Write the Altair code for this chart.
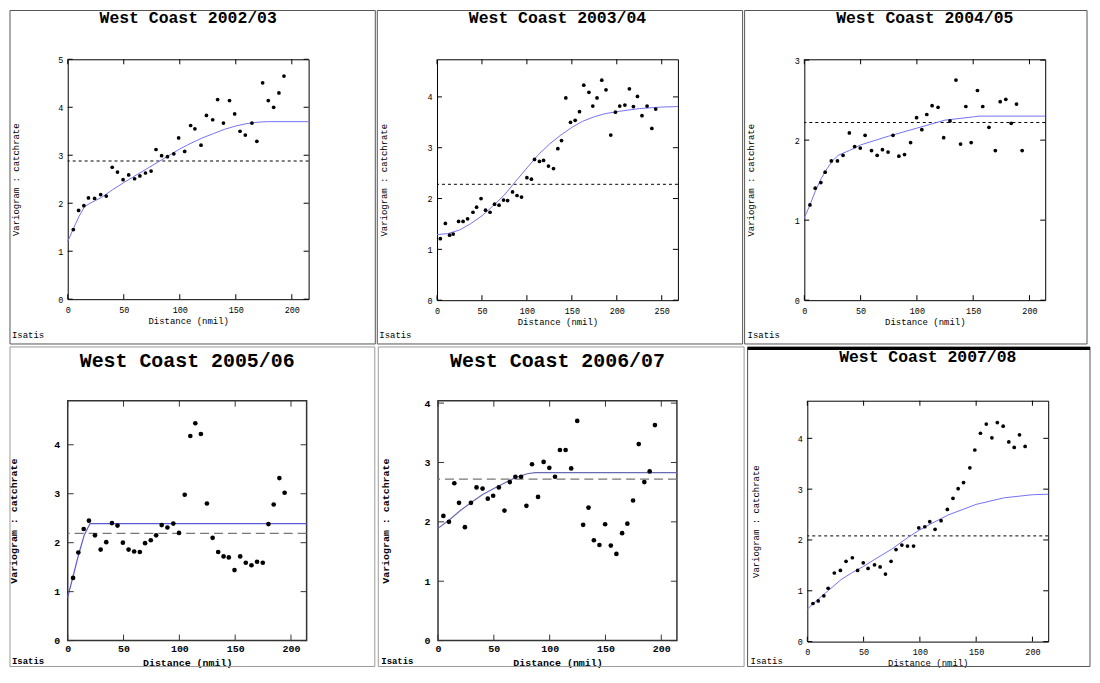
import altair as alt
import pandas as pd

FONT = "Liberation Mono"
X_TITLE = "Distance (nmil)"
Y_TITLE = "Variogram : catchrate"
FOOTER = "Isatis"

TITLES = ["West Coast 2002/03", "West Coast 2003/04", "West Coast 2004/05",
          "West Coast 2005/06", "West Coast 2006/07", "West Coast 2007/08"]

# ---------------- 2002/03 ----------------
LAG_0203 = [5, 9.7, 14.4, 18.5, 24, 29.4, 34.4, 39.7, 44.4, 49.4, 54.4, 59.7, 64.4, 69.4, 74.4,
            78.8, 83.8, 89, 94.7, 99, 104.4, 109.7, 113.5, 119, 123.8, 129.4, 133.8, 139, 144.4,
            149, 153.8, 158.5, 164.4, 168.8, 174, 179, 183.8, 188.5, 193]
GAM_0203 = [1.45, 1.85, 1.95, 2.11, 2.10, 2.18, 2.15, 2.75, 2.65, 2.49, 2.59, 2.51, 2.57, 2.63, 2.67,
            3.12, 2.99, 2.97, 3.03, 3.36, 3.08, 3.62, 3.55, 3.21, 3.83, 3.74, 4.16, 3.67, 4.14,
            3.86, 3.50, 3.42, 3.67, 3.29, 4.51, 4.14, 4.00, 4.30, 4.65]
MLAG_0203 = [0, 5, 10, 15, 20, 25, 30, 40, 50, 60, 70, 80, 90, 100, 110, 120, 130, 140, 150, 160, 170, 178, 215]
MGAM_0203 = [1.2, 1.47, 1.72, 1.93, 2.0, 2.06, 2.12, 2.28, 2.43, 2.57, 2.71, 2.85, 2.99, 3.13, 3.25,
             3.36, 3.45, 3.54, 3.61, 3.66, 3.69, 3.70, 3.70]
SILL_0203 = 2.88

# ---------------- 2003/04 ----------------
LAG_0304 = [3.7, 9.3, 14, 18, 24, 29, 34, 40, 44, 49, 54, 59, 64, 69, 74, 78.5, 84, 89, 94, 100,
            105, 108.5, 114, 118.5, 124, 129.6, 134.4, 138.5, 143.3, 148.5, 153.7, 158.5, 163.3,
            169, 173.3, 178, 183.3, 188, 193.3, 198.5, 203.3, 209, 214, 218.5, 223, 228, 233.7, 239, 243.3]
GAM_0304 = [1.21, 1.51, 1.28, 1.30, 1.55, 1.55, 1.60, 1.73, 1.83, 2.00, 1.77, 1.73, 1.89, 1.87, 1.97,
            1.96, 2.13, 2.06, 2.03, 2.41, 2.38, 2.77, 2.73, 2.75, 2.64, 2.59, 2.98, 3.14, 3.98, 3.50,
            3.54, 3.71, 4.23, 4.09, 3.82, 3.98, 4.33, 4.14, 3.25, 3.70, 3.82, 3.84, 4.16, 3.81, 4.01,
            3.63, 3.82, 3.38, 3.76]
MLAG_0304 = [0, 12, 25, 37, 50, 62, 75, 87, 100, 112, 125, 137, 150, 162, 175, 187, 200, 225, 250, 268]
MGAM_0304 = [1.29, 1.31, 1.38, 1.50, 1.66, 1.85, 2.07, 2.33, 2.60, 2.85, 3.07, 3.24, 3.40, 3.52,
             3.61, 3.67, 3.71, 3.77, 3.80, 3.81]
SILL_0304 = 2.28

# ---------------- 2004/05 ----------------
LAG_0405 = [5, 9.7, 14.7, 18.5, 24, 29.4, 34.4, 40, 44.7, 49.7, 54, 59.7, 64.7, 69.4, 74.4, 78.8,
            84, 89, 94.4, 99.7, 104.4, 108.8, 113.5, 118.8, 123.8, 129.4, 134.7, 138.8, 143.5,
            148.2, 153.8, 158.5, 164, 169.7, 174, 179, 183.8, 188.5, 193.5]
GAM_0405 = [1.19, 1.40, 1.47, 1.60, 1.74, 1.74, 1.81, 2.09, 1.92, 1.90, 2.06, 1.87, 1.81, 1.88, 1.85,
            2.06, 1.80, 1.82, 1.97, 2.28, 2.13, 2.32, 2.43, 2.41, 2.03, 2.24, 2.75, 1.95, 2.42,
            1.97, 2.62, 2.42, 2.16, 1.87, 2.48, 2.51, 2.21, 2.45, 1.87]
MLAG_0405 = [0, 5, 10, 15, 20, 25, 30, 40, 50, 75, 100, 125, 150, 155, 214]
MGAM_0405 = [1.03, 1.19, 1.37, 1.52, 1.64, 1.74, 1.81, 1.87, 1.94, 2.05, 2.15, 2.25, 2.29, 2.30, 2.30]
SILL_0405 = 2.22

# ---------------- 2005/06 ----------------
LAG_0506 = [4.8, 9.5, 14.3, 19, 24.4, 29.5, 34.5, 39.6, 44.6, 49.4, 54.5, 59.5, 64.6, 69.3, 74.4,
            79.2, 84.2, 89.3, 94.6, 99.7, 104.8, 109.8, 114.3, 119.3, 124.7, 129.8, 134.8, 139.6,
            144.3, 149.4, 154.5, 159.5, 164.6, 169.6, 174.7, 179.8, 184.5, 189.6, 194.3]
GAM_0506 = [1.28, 1.80, 2.28, 2.45, 2.15, 1.86, 2.01, 2.40, 2.35, 2.00, 1.86, 1.82, 1.81, 1.99, 2.05,
            2.15, 2.36, 2.31, 2.39, 2.20, 2.98, 4.18, 4.44, 4.22, 2.80, 2.10, 1.81, 1.72, 1.70,
            1.44, 1.72, 1.59, 1.54, 1.61, 1.59, 2.38, 2.78, 3.32, 3.02]
MLAG_0506 = [0, 5, 10, 15, 20, 214]
MGAM_0506 = [0.89, 1.33, 1.78, 2.17, 2.39, 2.39]
SILL_0506 = 2.19

# ---------------- 2006/07 ----------------
LAG_0607 = [4.8, 9.8, 14.6, 18.8, 24.1, 29.5, 34.5, 39.9, 44.6, 49.4, 54.5, 59.5, 64.3, 69.3, 74.4,
            79.2, 84.2, 89.6, 94.6, 99.7, 104.8, 109.2, 114.3, 119.3, 124.7, 130, 134.8, 139.6,
            144.6, 149.7, 154.8, 159.8, 164.9, 169.6, 174.7, 179.8, 184.8, 189.6, 194.3]
GAM_0607 = [2.10, 2.00, 2.65, 2.32, 1.91, 2.32, 2.58, 2.56, 2.39, 2.44, 2.58, 2.19, 2.67, 2.76, 2.76,
            2.27, 2.97, 2.42, 3.01, 2.91, 2.76, 3.21, 3.21, 2.90, 3.70, 1.95, 2.24, 1.69, 1.61,
            1.96, 1.60, 1.46, 1.81, 1.97, 2.36, 3.31, 2.67, 2.85, 3.63]
MLAG_0607 = [0, 10, 20, 30, 40, 50, 60, 70, 80, 87, 214]
MGAM_0607 = [1.89, 2.03, 2.19, 2.33, 2.46, 2.56, 2.66, 2.75, 2.81, 2.83, 2.83]
SILL_0607 = 2.72

# ---------------- 2007/08 ----------------
LAG_0708 = [5, 9.7, 14.7, 18.5, 24, 29.4, 34.4, 40, 44.7, 49.7, 54, 59.7, 64.7, 69.4, 74.4, 78.8,
            84, 89, 94.4, 99, 104.4, 108.8, 113.5, 118.8, 124.4, 129.4, 134, 138.8, 144.4, 148.8,
            153.8, 159, 164, 168.8, 174, 179, 183.8, 188.5, 193.5]
GAM_0708 = [0.75, 0.80, 0.90, 1.05, 1.35, 1.40, 1.58, 1.65, 1.40, 1.55, 1.44, 1.51, 1.47, 1.33, 1.58,
            1.81, 1.90, 1.88, 1.88, 2.24, 2.26, 2.36, 2.21, 2.38, 2.60, 2.82, 3.01, 3.13, 3.42, 3.77,
            4.10, 4.28, 4.01, 4.31, 4.24, 3.93, 3.82, 4.07, 3.84]
MLAG_0708 = [0, 10, 20, 30, 40, 50, 60, 75, 90, 100, 110, 125, 150, 175, 200, 214]
MGAM_0708 = [0.64, 0.84, 1.03, 1.22, 1.36, 1.48, 1.62, 1.82, 2.06, 2.20, 2.32, 2.49, 2.70, 2.83, 2.89, 2.90]
SILL_0708 = 2.08

XTICKS_200 = [0, 50, 100, 150, 200]
XTICKS_250 = [0, 50, 100, 150, 200, 250]
YTICKS_5 = [0, 1, 2, 3, 4, 5]
YTICKS_4 = [0, 1, 2, 3, 4]
YTICKS_3 = [0, 1, 2, 3]

SMALL = dict(title_size=16.5, label_size=8.5, label_weight="normal", atitle_size=9, atitle_weight="normal",
             lp_x=6, tp_x=3, lp_y=5, point_size=14, line_color="#7373f5", line_width=1,
             sill_color="black", sill_dash=[3, 3], sill_width=1, box="black", box_width=1,
             tick_len=5, frame="#555555", foot_size=9, foot_weight="normal")
LARGE = dict(title_size=20, label_size=10, label_weight="bold", atitle_size=10, atitle_weight="bold",
             lp_x=3, tp_x=4, lp_y=8, point_size=22, line_color="#5a5ad8", line_width=1.2,
             sill_color="#777777", sill_dash=[9, 5], sill_width=1.4, box="#333333", box_width=1.5,
             tick_len=6, frame="#9a9a9a", foot_size=9, foot_weight="bold")


def panel(title, lag, gam, mlag, mgam, sill, xmax, ymax, xticks, yticks, geo, sty, line_color=None):
    w, h = geo["w"], geo["h"]
    fl, fr, ft, fb = geo["frame"]
    tl = sty["tick_len"]
    xs = alt.Scale(domain=[0, xmax], nice=False, zero=False)
    ys = alt.Scale(domain=[0, ymax], nice=False, zero=False)
    xax = alt.Axis(values=xticks, ticks=False, domain=False, grid=False, format="d",
                   labelFont=FONT, labelFontSize=sty["label_size"], labelFontWeight=sty["label_weight"],
                   labelColor="black", labelPadding=sty["lp_x"], labelFlush=False, labelOverlap=False,
                   title=X_TITLE, titleFont=FONT, titleFontSize=sty["atitle_size"],
                   titleFontWeight=sty["atitle_weight"], titleColor="black", titlePadding=sty["tp_x"])
    yax = alt.Axis(values=yticks, ticks=False, domain=False, grid=False, format="d",
                   labelFont=FONT, labelFontSize=sty["label_size"], labelFontWeight=sty["label_weight"],
                   labelColor="black", labelPadding=sty["lp_y"], labelFlush=False, labelOverlap=False,
                   title=Y_TITLE, titleFont=FONT, titleFontSize=sty["atitle_size"],
                   titleFontWeight=sty["atitle_weight"], titleColor="black", titlePadding=geo["tp_y"])

    one = pd.DataFrame({"k": [0]})
    frame = alt.Chart(one).mark_rect(fillOpacity=0, stroke=sty["frame"], strokeWidth=1).encode(
        x=alt.value(-fl), x2=alt.value(w + fr), y=alt.value(-ft), y2=alt.value(h + fb))
    layers = [frame]
    if geo.get("thick_top"):
        layers.append(alt.Chart(one).mark_rule(color="black", strokeWidth=3).encode(
            x=alt.value(-fl), x2=alt.value(w + fr), y=alt.value(-ft + 1.5)))

    sill_df = pd.DataFrame({"s": [sill]})
    layers.append(alt.Chart(sill_df).mark_rule(color=sty["sill_color"], strokeDash=sty["sill_dash"],
                                               strokeWidth=sty["sill_width"]).encode(
        y=alt.Y("s:Q", scale=ys, axis=yax)))

    mdl = pd.DataFrame({"lag": mlag, "gamma": mgam})
    layers.append(alt.Chart(mdl).mark_line(color=line_color or sty["line_color"],
                                           strokeWidth=sty["line_width"]).encode(
        x=alt.X("lag:Q", scale=xs, axis=xax), y=alt.Y("gamma:Q", scale=ys, axis=yax)))

    pts = pd.DataFrame({"lag": lag, "gamma": gam})
    layers.append(alt.Chart(pts).mark_circle(size=sty["point_size"], color="black", opacity=1).encode(
        x=alt.X("lag:Q", scale=xs, axis=xax), y=alt.Y("gamma:Q", scale=ys, axis=yax)))

    xt = pd.DataFrame({"v": xticks})
    yt = pd.DataFrame({"v": yticks})
    rk = dict(color=sty["box"], strokeWidth=1)
    layers.append(alt.Chart(xt).mark_rule(**rk).encode(
        x=alt.X("v:Q", scale=xs, axis=xax), y=alt.value(h), y2=alt.value(h - tl)))
    layers.append(alt.Chart(xt).mark_rule(**rk).encode(
        x=alt.X("v:Q", scale=xs, axis=xax), y=alt.value(0), y2=alt.value(tl)))
    layers.append(alt.Chart(yt).mark_rule(**rk).encode(
        y=alt.Y("v:Q", scale=ys, axis=yax), x=alt.value(0), x2=alt.value(tl)))
    layers.append(alt.Chart(yt).mark_rule(**rk).encode(
        y=alt.Y("v:Q", scale=ys, axis=yax), x=alt.value(w - tl), x2=alt.value(w)))

    layers.append(alt.Chart(pd.DataFrame({"t": [title]})).mark_text(
        font=FONT, fontSize=sty["title_size"], fontWeight="bold", color="black",
        align="center", baseline="middle").encode(
        text="t:N", x=alt.value(w / 2), y=alt.value(geo["title_y"])))
    layers.append(alt.Chart(pd.DataFrame({"t": [FOOTER]})).mark_text(
        font=FONT, fontSize=sty["foot_size"], fontWeight=sty["foot_weight"], color="black",
        align="left", baseline="middle").encode(
        text="t:N", x=alt.value(geo["foot_x"]), y=alt.value(h + geo["foot_dy"])))

    return alt.layer(*layers).properties(
        width=w, height=h, view=alt.ViewBackground(stroke=sty["box"], strokeWidth=sty["box_width"]))


# geometry: plot size, frame offsets (left, right, top, bottom) around the plot, text offsets
G1 = dict(w=242, h=241, frame=(58, 67, 49, 45), title_y=-41, foot_x=-56, foot_dy=36, tp_y=37)
G2 = dict(w=242, h=242, frame=(60, 65, 49, 44), title_y=-41, foot_x=-58, foot_dy=35, tp_y=39)
G3 = dict(w=242, h=242, frame=(60, 42, 49, 44), title_y=-41, foot_x=-57, foot_dy=35, tp_y=39)
G4 = dict(w=240, h=241, frame=(58, 68.5, 54, 26), title_y=-40, foot_x=-56, foot_dy=20, tp_y=35)
G5 = dict(w=240, h=241, frame=(60, 67.5, 54, 26), title_y=-40, foot_x=-57, foot_dy=20, tp_y=34)
G6 = dict(w=242, h=242, frame=(60, 42, 54, 25), title_y=-44, foot_x=-57, foot_dy=19, tp_y=37,
          thick_top=True)

p1 = panel(TITLES[0], LAG_0203, GAM_0203, MLAG_0203, MGAM_0203, SILL_0203, 215, 5.0,
           XTICKS_200, YTICKS_5, G1, SMALL)
p2 = panel(TITLES[1], LAG_0304, GAM_0304, MLAG_0304, MGAM_0304, SILL_0304, 268, 4.74,
           XTICKS_250, YTICKS_4, G2, SMALL)
p3 = panel(TITLES[2], LAG_0405, GAM_0405, MLAG_0405, MGAM_0405, SILL_0405, 214, 3.01,
           XTICKS_200, YTICKS_3, G3, SMALL)
p4 = panel(TITLES[3], LAG_0506, GAM_0506, MLAG_0506, MGAM_0506, SILL_0506, 214, 4.9,
           XTICKS_200, YTICKS_4, G4, LARGE)
p5 = panel(TITLES[4], LAG_0607, GAM_0607, MLAG_0607, MGAM_0607, SILL_0607, 214, 4.04,
           XTICKS_200, YTICKS_4, G5, LARGE, line_color="#6a6ab4")
p6 = panel(TITLES[5], LAG_0708, GAM_0708, MLAG_0708, MGAM_0708, SILL_0708, 214, 4.74,
           XTICKS_200, YTICKS_4, G6, SMALL)

row1 = alt.hconcat(p1, p2, p3, spacing=0, bounds="full")
row2 = alt.hconcat(p4, p5, p6, spacing=0, bounds="full")
chart = alt.vconcat(row1, row2, spacing=0, bounds="full").properties(
    padding={"left": 0, "top": 0, "right": 0, "bottom": 0},
    autosize=alt.AutoSizeParams(type="pad"),
    background="white"
).configure_view(stroke="black", strokeWidth=1)

chart.save("out.html", embed_options={"renderer": "svg", "actions": False})
